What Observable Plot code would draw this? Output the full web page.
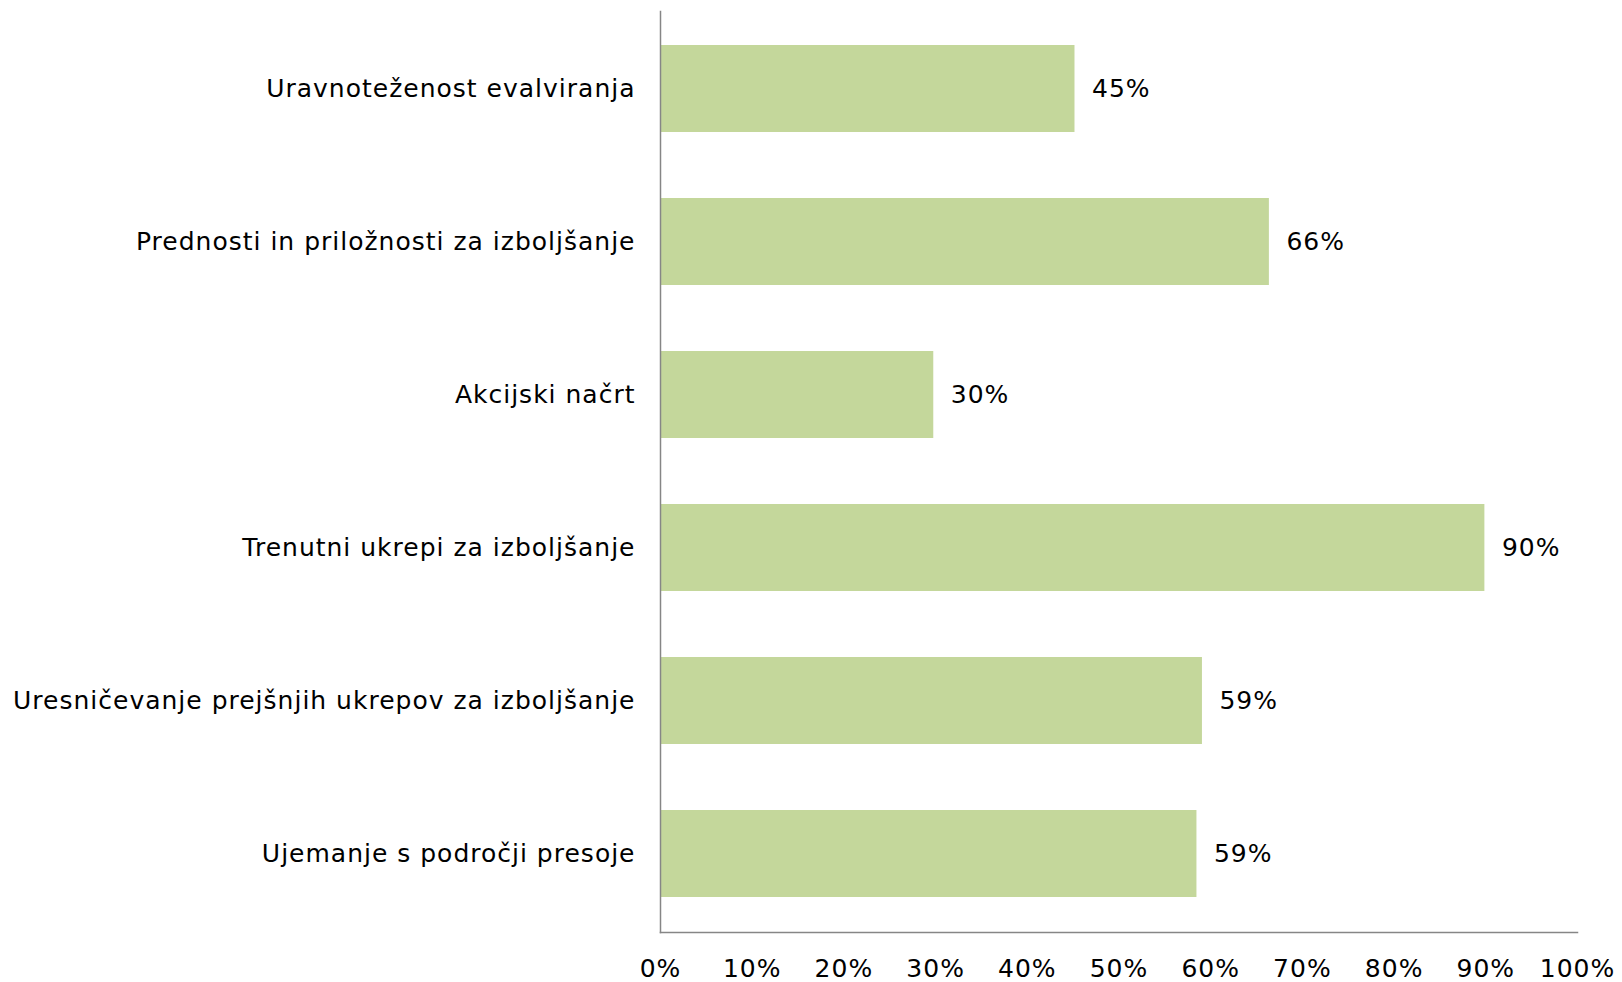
<!DOCTYPE html>
<html>
<head>
<meta charset="utf-8">
<script src="https://cdn.jsdelivr.net/npm/d3@7"></script>
<script src="https://cdn.jsdelivr.net/npm/@observablehq/plot@0.6"></script>
<style>
  html, body { margin: 0; padding: 0; background: #fff; }
  #chart svg { display: block; }
  #chart svg text { letter-spacing: 1px; }
</style>
</head>
<body>
<div id="chart"></div>
<script>
const categories = [
  "Uravnoteženost evalviranja",
  "Prednosti in priložnosti za izboljšanje",
  "Akcijski načrt",
  "Trenutni ukrepi za izboljšanje",
  "Uresničevanje prejšnjih ukrepov za izboljšanje",
  "Ujemanje s področji presoje"
];
const values = [45.2, 66.4, 29.8, 89.9, 59.1, 58.5];
const xTicks = [0, 10, 20, 30, 40, 50, 60, 70, 80, 90, 100];

const data = categories.map((c, i) => ({category: c, value: values[i]}));

const font = "DejaVu Sans, Verdana, sans-serif";
const chart = Plot.plot({
  width: 1622,
  height: 982,
  marginLeft: 660,
  marginRight: 45,
  marginTop: 11,
  marginBottom: 50,
  style: {fontFamily: font, fontSize: "25px", color: "#000", background: "#fff"},
  x: {domain: [0, 100], ticks: xTicks, tickFormat: d => d + "%", tickSize: 0, tickPadding: 27, label: null},
  y: {domain: categories, paddingInner: 0.43, paddingOuter: 0.215, tickSize: 0, tickPadding: 25, label: null},
  marks: [
    Plot.barX(data, {x: "value", y: "category", fill: "#c4d79b"}),
    Plot.text(data, {x: "value", y: "category", text: d => Math.round(d.value) + "%", dx: 17, textAnchor: "start", fontSize: 25, fill: "#000"}),
    Plot.frame({anchor: "left", stroke: "#868686", strokeWidth: 1.5}),
    Plot.frame({anchor: "bottom", stroke: "#868686", strokeWidth: 1.5})
  ]
});
document.getElementById("chart").appendChild(chart);
</script>
</body>
</html>
